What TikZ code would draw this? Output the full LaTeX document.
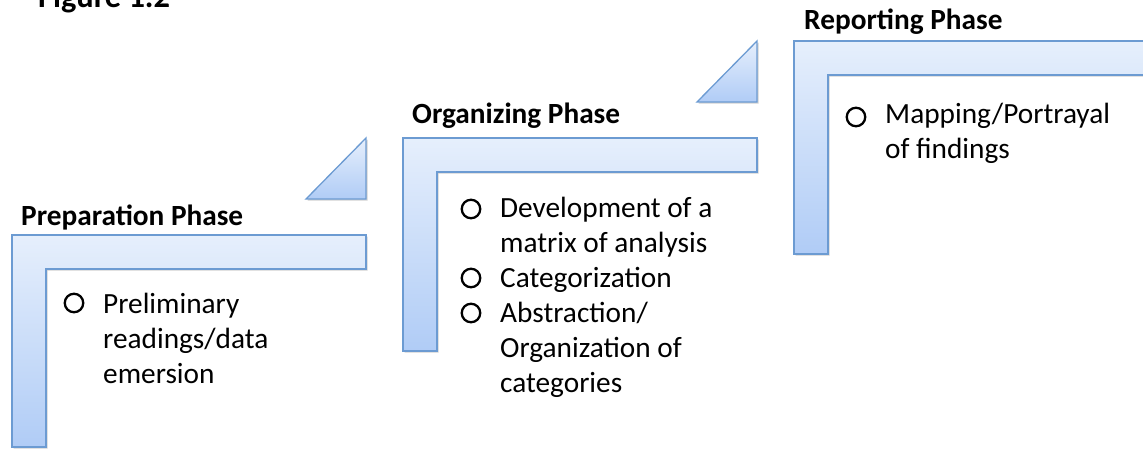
\documentclass[tikz,border=0pt]{standalone}
\usepackage{fontspec}
\setmainfont{Carlito}
\usetikzlibrary{shadows}
\definecolor{bordc}{RGB}{108,155,210}
\definecolor{lightc}{RGB}{230,239,252}
\definecolor{darkc}{RGB}{176,204,246}
\tikzset{
  phase/.style={draw=bordc, line width=1.3pt, top color=lightc, bottom color=darkc,
    drop shadow={opacity=0.3, shadow xshift=1.5pt, shadow yshift=-1.5pt, fill=black!60}},
  hdr/.style={font=\bfseries\fontsize{29.3}{35}\selectfont, anchor=base west, inner sep=0pt},
  item/.style={font=\fontsize{29.3}{35}\selectfont, anchor=base west, inner sep=0pt, align=left},
  bul/.style={circle, draw=black, line width=2.3pt, minimum size=18.5pt, inner sep=0pt}
}
\begin{document}
\begin{tikzpicture}[x=1pt,y=-1pt]
\useasboundingbox (0,0) rectangle (1143,448);
\clip (0,0) rectangle (1143,448);
% L-shaped phase pieces
\path[phase] (12,235) -- (366,235) -- (366,269) -- (46,269) -- (46,447) -- (12,447) -- cycle;
\path[phase] (403,138) -- (757,138) -- (757,172) -- (437,172) -- (437,351) -- (403,351) -- cycle;
\path[phase] (794,41) -- (1160,41) -- (1160,75) -- (828,75) -- (828,254) -- (794,254) -- cycle;
% step triangles
\path[phase] (306,199) -- (366,138) -- (366,199) -- cycle;
\path[phase] (697,102) -- (757,41) -- (757,102) -- cycle;
% headers
\node[hdr, font=\bfseries\fontsize{32.4}{38}\selectfont] (fig) at (38,7) {Figure 1.2};
\node[hdr] (h1) at (21,225) {Preparation Phase};
\node[hdr] (h2) at (412,123) {Organizing Phase};
\node[hdr] (h3) at (804,29) {Reporting Phase};
% bullets (text nodes anchored at the baseline of their last line)
\node[bul] (b1) at (74,303) {};
\node[item] (t1) at (103,383) {Preliminary\\readings/data\\emersion};
\node[bul] (b2) at (471,209) {};
\node[item] (t2) at (500,252) {Development of a\\matrix of analysis};
\node[bul] (b3) at (471,278) {};
\node[item] (t3) at (500,287) {Categorization};
\node[bul] (b4) at (471,313) {};
\node[item] (t4) at (500,392) {Abstraction/\\Organization of\\categories};
\node[bul] (b5) at (856,117) {};
\node[item] (t5) at (885,158) {Mapping/Portrayal\\of findings};
\end{tikzpicture}
\end{document}
